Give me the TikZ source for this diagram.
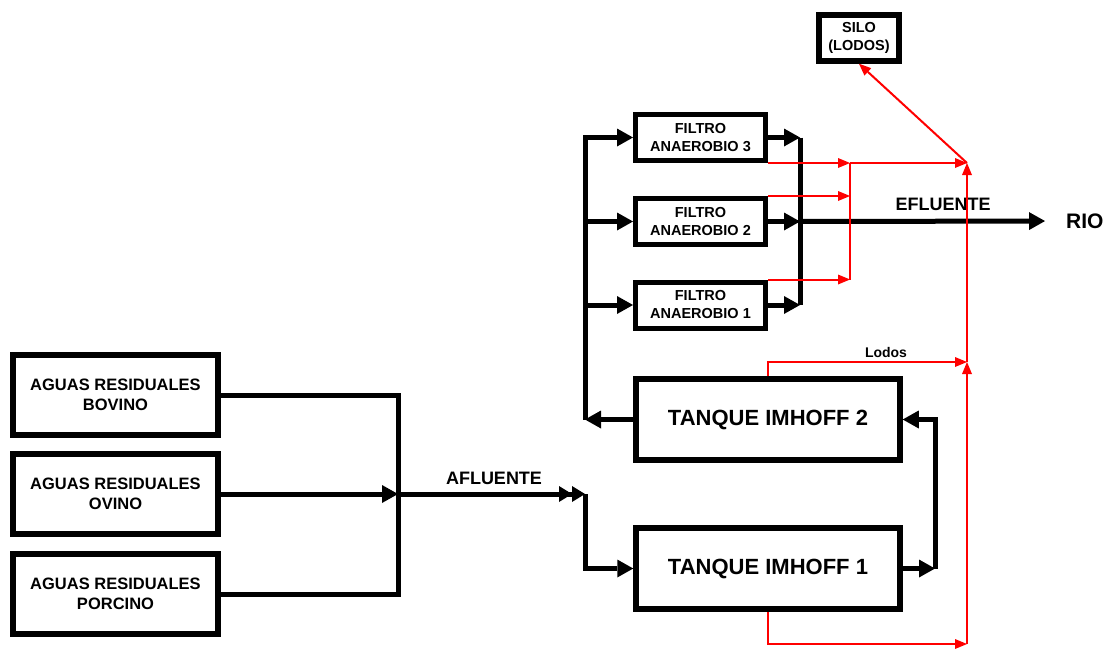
\documentclass[tikz,border=0pt]{standalone}
\usepackage{fontspec}
\setmainfont{Liberation Sans}
\usetikzlibrary{arrows.meta}
\begin{document}
\begin{tikzpicture}[x=1pt,y=-1pt,
  box/.style={draw, line width=5.5pt, align=center, inner sep=0pt, font=\bfseries},
  aguas/.style={box, minimum width=205pt, minimum height=80pt, font=\bfseries\fontsize{16.5}{20}\selectfont},
  tanque/.style={box, minimum width=264pt, minimum height=81pt, font=\bfseries\fontsize{22}{26}\selectfont},
  filtro/.style={box, line width=5pt, minimum width=130pt, minimum height=46pt, font=\bfseries\fontsize{14.5}{18}\selectfont},
  silobox/.style={box, minimum width=80pt, minimum height=46pt, font=\bfseries\fontsize{14.5}{18.5}\selectfont},
  flow/.style={line width=5pt},
  arr/.style={flow, -{Triangle[length=16pt,width=18pt,line width=0pt]}},
  darr/.style={flow, -{Triangle[length=13pt,width=16pt,line width=0pt]Triangle[length=13pt,width=16pt,line width=0pt]}},
  rline/.style={red, line width=2pt},
  rarr/.style={rline, -{Triangle[length=12pt,width=10pt,line width=0pt]}},
  lbl/.style={font=\bfseries\fontsize{18}{20}\selectfont, inner sep=0pt}
]
\path[use as bounding box] (0,0) rectangle (1110,648);

% boxes
\node[aguas] (bov) at (115.5,395) {AGUAS RESIDUALES\\BOVINO};
\node[aguas] (ovi) at (115.5,494) {AGUAS RESIDUALES\\OVINO};
\node[aguas] (por) at (115.5,594) {AGUAS RESIDUALES\\PORCINO};
\node[tanque] (t2) at (768,419.5) {TANQUE IMHOFF 2};
\node[tanque] (t1) at (768,568.5) {TANQUE IMHOFF 1};
\node[filtro] (f3) at (700.5,137.5) {FILTRO\\ANAEROBIO 3};
\node[filtro] (f2) at (700.5,221.5) {FILTRO\\ANAEROBIO 2};
\node[filtro] (f1) at (700.5,305) {FILTRO\\ANAEROBIO 1};
\node[silobox] (silo) at (859,38) {SILO\\(LODOS)};

% labels
\node[lbl] (afl) at (494,478) {AFLUENTE};
\node[lbl] (efl) at (943,204) {EFLUENTE};
\node[font=\bfseries\fontsize{21}{24}\selectfont, inner sep=0pt, anchor=west] (rio) at (1066,221) {RIO};
\node[font=\bfseries\fontsize{14}{16}\selectfont, inner sep=0pt] (lod) at (886,352) {Lodos};

% coordinates
\coordinate (cj) at (398,494);
\coordinate (af) at (585,494);
\coordinate (tr1) at (935,568.5);
\coordinate (tl2) at (585,419.5);
\coordinate (rc) at (800,221.5);
\coordinate (rA) at (850,163);
\coordinate (rB) at (967,163);
\coordinate (rC) at (967,362);
\coordinate (rD) at (967,644);

% black flow
\draw[flow] (bov.east) -| (cj);
\draw[flow] (por.east) -| (cj);
\draw[arr] (ovi.east) -- (cj);
\draw[darr] (cj) -- (af);
\draw[arr] (af) |- (t1.west);
\draw[arr] (t1.east) -- (tr1);
\draw[arr] (tr1) |- (t2.east);
\draw[arr] (t2.west) -- (tl2);
\draw[arr] (tl2) |- (f3.west);
\draw[arr] (f2.west -| tl2) -- (f2.west);
\draw[arr] (f1.west -| tl2) -- (f1.west);
\draw[arr] (f3.east) -- (f3.east -| rc);
\draw[arr] (f2.east) -- (f2.east -| rc);
\draw[arr] (f1.east) -- (f1.east -| rc);
\draw[flow] (f3.east -| rc) -- (f1.east -| rc);
\draw[arr, shorten >=21pt] (rc) -- (rio.west);

% red sludge lines
\draw[rarr] (f3.south east) -- (rA);
\draw[rarr] (f2.north east) -- (f2.north east -| rA);
\draw[rarr] (f1.north east) -- (f1.north east -| rA);
\draw[rline] (rA) -- (f1.north east -| rA);
\draw[rarr] (rA) -- (rB);
\draw[rarr] (t2.north) |- (rC);
\draw[rarr] (t1.south) |- (rD);
\draw[rarr] (rD) -- (rC);
\draw[rarr] (rC) -- (rB);
\draw[rarr] (rB) -- (silo.south);
\end{tikzpicture}
\end{document}
